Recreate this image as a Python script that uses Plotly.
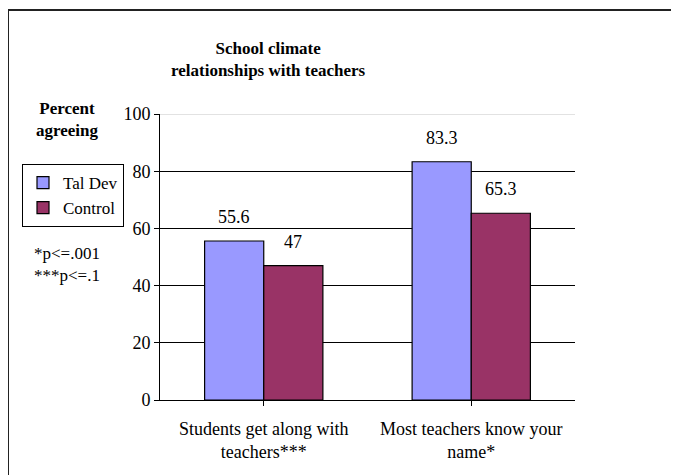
import plotly.graph_objects as go

categories = ["Students get along with<br>teachers***", "Most teachers know your<br>name*"]
tal_dev = [55.6, 83.3]
control = [47, 65.3]
series_names = ["Tal Dev", "Control"]
y_ticks = [0, 20, 40, 60, 80, 100]

SERIF = "Liberation Serif"
TAL_COLOR = "#9999FF"
CTRL_COLOR = "#993366"
BAR_W = 0.285

# page body adds an 8px margin, so the figure is 8px smaller than the window
W, H = 671, 467
PL, PT, PW, PH = 152, 106, 415, 286   # plot area in figure px


def px_x(x):
    """Reference-picture x (px) -> paper coordinate."""
    return (x - 8 - PL) / PW


def px_y(y):
    """Reference-picture y (px) -> paper coordinate."""
    return (PT + PH - (y - 8)) / PH


x_idx = list(range(len(categories)))

fig = go.Figure()
fig.add_trace(go.Bar(
    x=x_idx, y=tal_dev, name=series_names[0],
    width=BAR_W, offset=-BAR_W,
    marker=dict(color=TAL_COLOR, line=dict(color="black", width=1.2)),
))
fig.add_trace(go.Bar(
    x=x_idx, y=control, name=series_names[1],
    width=BAR_W, offset=0,
    marker=dict(color=CTRL_COLOR, line=dict(color="black", width=1.2)),
))

# value labels above each bar
for i in x_idx:
    for vals, sign in ((tal_dev, -1), (control, 1)):
        fig.add_annotation(
            x=i + sign * BAR_W / 2, y=vals[i], xref="x", yref="y",
            text=f"{vals[i]:g}", showarrow=False,
            yanchor="middle", yshift=24,
            font=dict(family=SERIF, size=18, color="black"),
        )

# chart-level texts
fig.add_annotation(
    text="<b>School climate</b><br><b>relationships with teachers</b>",
    x=px_x(268), y=px_y(59), xref="paper", yref="paper",
    xanchor="center", yanchor="middle", showarrow=False, align="center",
    font=dict(family=SERIF, size=17, color="black"),
)
fig.add_annotation(
    text="<b>Percent</b><br><b>agreeing</b>",
    x=px_x(67), y=px_y(120), xref="paper", yref="paper",
    xanchor="center", yanchor="middle", showarrow=False, align="center",
    font=dict(family=SERIF, size=17, color="black"),
)
fig.add_annotation(
    text="*p<=.001<br>***p<=.1",
    x=px_x(67), y=px_y(264), xref="paper", yref="paper",
    xanchor="center", yanchor="middle", showarrow=False, align="center",
    font=dict(family=SERIF, size=17, color="black"),
)

# outer chart frame (runs off the right/bottom of the picture)
fig.add_shape(
    type="rect", xref="paper", yref="paper", layer="below",
    x0=px_x(8), x1=px_x(720), y0=px_y(520), y1=px_y(10),
    line=dict(color="#222222", width=2), fillcolor="white",
)
# top gridline is light in the original
fig.add_shape(
    type="line", xref="paper", yref="y", layer="above",
    x0=0, x1=1, y0=100, y1=100,
    line=dict(color="#d9d9d9", width=1.5),
)

fig.update_layout(
    width=W, height=H,
    margin=dict(l=PL, r=W - PL - PW, t=PT, b=H - PT - PH),
    paper_bgcolor="white", plot_bgcolor="white",
    barmode="overlay",
    font=dict(family=SERIF, color="black"),
    showlegend=True,
    legend=dict(
        x=px_x(22), y=px_y(164), xanchor="left", yanchor="top",
        bordercolor="black", borderwidth=1, bgcolor="white",
        font=dict(family=SERIF, size=17, color="black"),
        itemwidth=30, tracegroupgap=0,
    ),
    xaxis=dict(
        tickvals=x_idx, ticktext=categories, range=[-0.5, 1.5],
        showline=True, linecolor="black", linewidth=1,
        ticks="outside", ticklen=5, tickcolor="black",
        tickson="boundaries", showgrid=False, ticklabelstandoff=7,
        tickfont=dict(family=SERIF, size=18, color="black"),
    ),
    yaxis=dict(
        range=[0, 100], tickvals=y_ticks,
        showline=True, linecolor="black", linewidth=1,
        ticks="outside", ticklen=5, tickcolor="black",
        showgrid=True, gridcolor="black", gridwidth=1, zeroline=False,
        tickfont=dict(family=SERIF, size=18, color="black"),
    ),
)

fig.write_html("out.html")
